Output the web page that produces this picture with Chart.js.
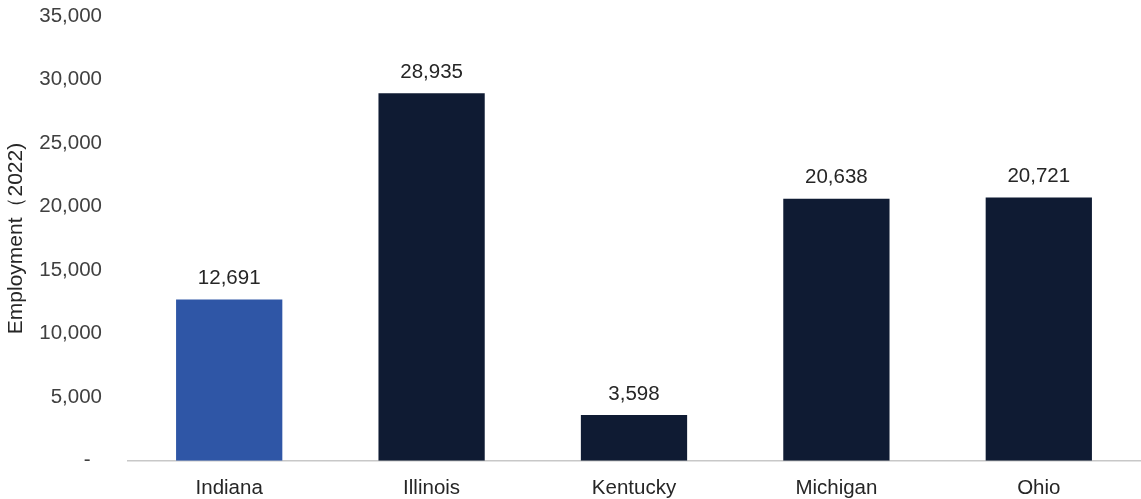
<!DOCTYPE html>
<html>
<head>
<meta charset="utf-8">
<script src="https://cdn.jsdelivr.net/npm/chart.js@4"></script>
<style>
  html, body { margin: 0; padding: 0; background: #fff; overflow: hidden; }
  #wrap { width: 1141px; height: 521px; position: relative; margin-top: -22px; }
</style>
</head>
<body>
<div id="wrap"><canvas id="chart"></canvas></div>
<script>
// Employment by state, 2022
const states = ['Indiana', 'Illinois', 'Kentucky', 'Michigan', 'Ohio'];
const employment = [12691, 28935, 3598, 20638, 20721];
const barColors = ['#2F56A6', '#0F1B33', '#0F1B33', '#0F1B33', '#0F1B33'];

const FONT = "'Liberation Sans', Arial, sans-serif";

// value labels above each bar
const barLabels = {
  id: 'barLabels',
  afterDatasetsDraw(chart) {
    const { ctx } = chart;
    const meta = chart.getDatasetMeta(0);
    ctx.save();
    ctx.font = `20.5px ${FONT}`;
    ctx.fillStyle = '#262626';
    ctx.textAlign = 'center';
    ctx.textBaseline = 'middle';
    meta.data.forEach((bar, i) => {
      ctx.fillText(employment[i].toLocaleString('en-US'), bar.x, bar.y - 21);
    });
    ctx.restore();
  }
};

new Chart(document.getElementById('chart'), {
  type: 'bar',
  data: {
    labels: states,
    datasets: [{
      data: employment,
      backgroundColor: barColors,
      categoryPercentage: 1,
      barPercentage: 0.525,
    }]
  },
  options: {
    responsive: true,
    maintainAspectRatio: false,
    animation: false,
    layout: { padding: { top: 0, right: 1, left: 2, bottom: 0 } },
    plugins: { legend: { display: false }, tooltip: { enabled: false } },
    scales: {
      x: {
        afterFit: s => { s.height = 38; },
        grid: { display: false },
        border: { display: true, color: '#C8C8C8', width: 1.5 },
        ticks: { color: '#262626', font: { family: FONT, size: 20.5 }, padding: 7 },
      },
      y: {
        min: 0,
        max: 35000,
        afterFit: s => { s.width = 126; },
        grid: { display: false, drawTicks: false },
        border: { display: false },
        ticks: {
          stepSize: 5000,
          color: '#404040',
          padding: 26,
          font: { family: FONT, size: 20.5 },
          // accounting-style dash for zero, sits a bit left of the numbers
          callback: v => v === 0 ? '-  ' : v.toLocaleString('en-US'),
        },
        title: {
          display: true,
          text: 'Employment（2022)',
          color: '#262626',
          font: { family: FONT, size: 21 },
          padding: { top: 2, bottom: 0 },
        },
      },
    },
  },
  plugins: [barLabels],
});
</script>
</body>
</html>
